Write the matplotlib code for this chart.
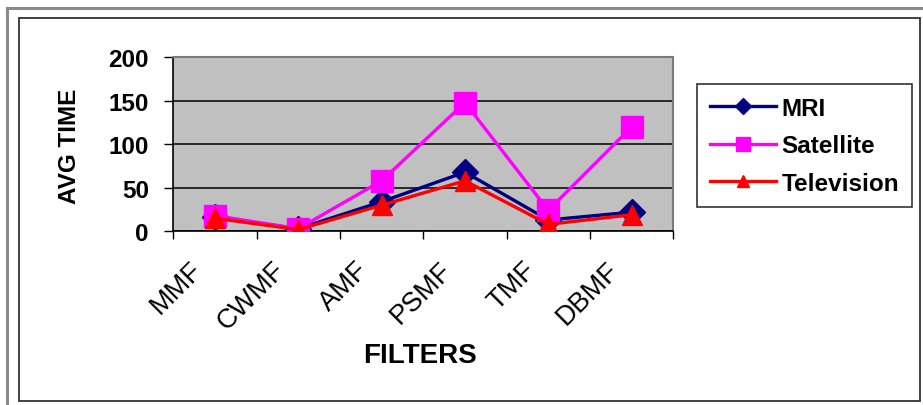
import matplotlib
matplotlib.use("Agg")
import matplotlib.pyplot as plt
from matplotlib.patches import Rectangle
from matplotlib.lines import Line2D
from matplotlib.transforms import ScaledTranslation

plt.rcParams['font.family'] = ['Liberation Sans', 'DejaVu Sans']

filters = ["MMF", "CWMF", "AMF", "PSMF", "TMF", "DBMF"]
mri = [16, 3, 34, 68, 13, 22]
satellite = [18, 3, 58, 148, 24, 120]
television = [15, 2, 30, 58, 8, 19]
y_ticks = [0, 50, 100, 150, 200]

W, H = 923, 406
fig = plt.figure(figsize=(W / 100, H / 100), dpi=100)
fig.patch.set_facecolor("white")

# outer window edge and inner chart frame
fig.add_artist(Line2D([7.5 / W, 7.5 / W], [0, 1 - 9 / H], transform=fig.transFigure,
                      color="#8a8a8a", lw=2.2))
fig.add_artist(Line2D([7.5 / W, 1], [1 - 9 / H, 1 - 9 / H], transform=fig.transFigure,
                      color="#8a8a8a", lw=2.2))
fig.add_artist(Rectangle((18.5 / W, 1 - 402 / H), (919.5 - 18.5) / W, (402 - 18.5) / H,
                         transform=fig.transFigure, fill=False, edgecolor="#333333", lw=1.3))

left, right, top, bottom = 173.3, 673.3, 58.3, 232.3
ax = fig.add_axes([left / W, 1 - bottom / H, (right - left) / W, (bottom - top) / H])
ax.set_facecolor("#C0C0C0")

x = list(range(len(filters)))
ax.plot(x, mri, color="#000080", lw=2.4, marker="D", markersize=13,
        markerfacecolor="#000080", markeredgecolor="#000080", label="MRI", zorder=3)
ax.plot(x, satellite, color="#FF00FF", lw=2.4, marker="s", markersize=16,
        markerfacecolor="#FF00FF", markeredgecolor="#FF00FF", label="Satellite", zorder=4)
ax.plot(x, television, color="#FF0000", lw=2.4, marker="^", markersize=14,
        markerfacecolor="#FF0000", markeredgecolor="#FF0000", label="Television", zorder=5)

ax.set_xlim(-0.5, len(filters) - 0.5)
ax.set_ylim(0, 200)
ax.set_yticks(y_ticks)
ax.set_yticklabels([str(v) for v in y_ticks], fontsize=17.5, fontweight="bold")
ax.tick_params(axis="y", length=6.5, width=1, pad=11, color="black")
ax.grid(axis="y", color="black", lw=1.1)
ax.set_axisbelow(True)

ax.set_xticks(x)
ax.set_xticks([i + 0.5 for i in range(-1, len(filters))], minor=True)
ax.tick_params(axis="x", which="major", length=0)
ax.tick_params(axis="x", which="minor", length=6, width=1, color="black")
labels = ax.set_xticklabels(filters, fontsize=19.5, rotation=45, ha="right",
                            va="top", rotation_mode="anchor")
offset = ScaledTranslation(-26 / 100, -20 / 100, fig.dpi_scale_trans)
for lab in labels:
    lab.set_transform(lab.get_transform() + offset)

for side in ("left", "bottom"):
    ax.spines[side].set_color("black")
    ax.spines[side].set_linewidth(1.2)
for side in ("top", "right"):
    ax.spines[side].set_color("#7a7a7a")
    ax.spines[side].set_linewidth(1.5)

fig.text(69 / W, 1 - 146 / H, "AVG TIME", rotation=90, ha="center", va="center",
         fontsize=17.5, fontweight="bold")
fig.text(420 / W, 1 - 356 / H, "FILTERS", ha="center", va="center",
         fontsize=20, fontweight="bold")

leg = fig.legend(loc="upper left", bbox_to_anchor=(697 / W, 1 - 85 / H),
                 bbox_transform=fig.transFigure, frameon=True, fancybox=False,
                 edgecolor="black", prop={"size": 17.5, "weight": "bold"},
                 markerscale=0.6, handlelength=2.75, handletextpad=0.2,
                 labelspacing=0.6, borderpad=0.52, borderaxespad=0)
leg.get_frame().set_linewidth(1.2)

fig.savefig("out.png", dpi=100)
